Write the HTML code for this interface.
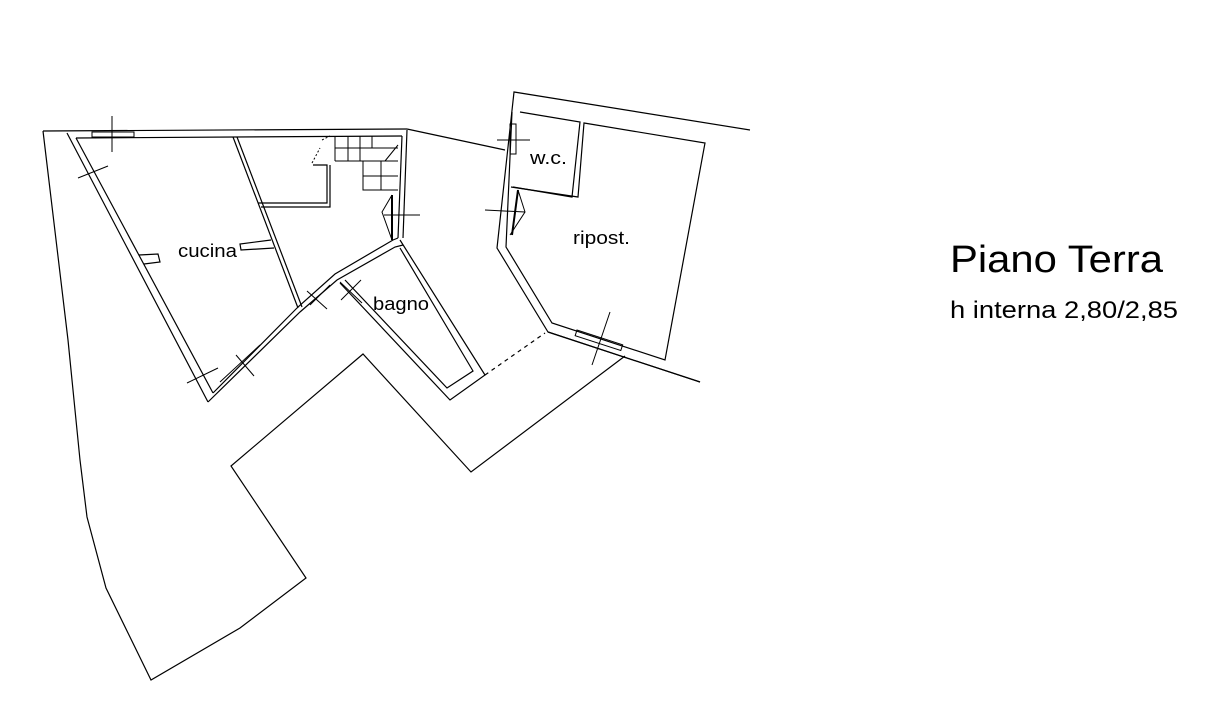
<!DOCTYPE html>
<html><head><meta charset="utf-8"><style>
body{margin:0;background:#fff;width:1214px;height:715px;overflow:hidden}
svg{display:block}
text{font-family:"Liberation Sans",sans-serif;fill:#000}
</style></head><body>
<svg width="1214" height="715" viewBox="0 0 1214 715" fill="none" stroke="#000" stroke-width="1.2">
<polyline points="43,131 68,340 80,460 87,517 106,588 151,680 240,628 306,578 231,466 363,354 471,472 625,356"/>
<polyline points="407,129 505,150"/>
<polyline points="548,332 700,382"/>
<polyline points="485,375 545,333" stroke-dasharray="4,4"/>
<polyline points="43,131 407,129"/>
<polyline points="76,138 402,136"/>
<polyline points="67,133 208,402"/>
<polyline points="76,138 213,393"/>
<polyline points="208,402 300,312 337,280 395,247 403,245"/>
<polyline points="213,393 298,307 335,274 393,240 398,238"/>
<polyline points="233,137 298,308"/>
<polyline points="237,137 302,307"/>
<polyline points="139,255 158,254 160,262 144,264"/>
<polyline points="271,240 240,244 241,250 274,248"/>
<polyline points="258,203 327,203 327,165 313,165"/>
<polyline points="261,207 330,207 330,165"/>
<g stroke-width="1">
<path d="M335,161 V136 M335,161 H398 M348,161 V136 M360,161 V136 M335,148 H398 M372,148 V136 M385,161 L398,145 M363,161 V190 H398 M363,176 H398 M381,161 V190"/>
<path d="M312,163 L320,148 M322,140 L330,136" stroke-dasharray="2,2"/>
</g>
<polyline points="402,136 398,238"/>
<polyline points="407,130 403,238"/>
<polyline points="400,240 485,375 450,400 340,283"/>
<polyline points="400,248 473,371 447,388 345,280"/>
<g stroke-width="1">
<rect x="92" y="132" width="42" height="5"/>
<line x1="112" y1="116" x2="112" y2="152"/>
<line x1="78" y1="178" x2="108" y2="166"/>
<line x1="187" y1="383" x2="218" y2="368"/>
<line x1="236" y1="355" x2="254" y2="376"/>
<line x1="220" y1="382" x2="260" y2="345"/>
<line x1="307" y1="291" x2="327" y2="309"/>
<line x1="310" y1="305" x2="330" y2="285"/>
<line x1="341" y1="300" x2="361" y2="280"/>
<line x1="340" y1="282" x2="362" y2="303"/>
<line x1="497" y1="140" x2="530" y2="140"/>
<line x1="592" y1="365" x2="610" y2="312"/>
<rect x="577" y="330" width="48" height="6" transform="rotate(18 577 330)"/>
<line x1="384" y1="215" x2="420" y2="215"/>
<line x1="392" y1="195" x2="392" y2="240" stroke-width="2"/>
<polyline points="392,195 382,212 392,240"/>
<line x1="485" y1="210" x2="525" y2="212"/>
<line x1="518" y1="190" x2="512" y2="235" stroke-width="2"/>
<polyline points="518,190 525,212 510,235"/>
</g>
<polyline points="750,130 514,92 497,248 548,332 700,382"/>
<polyline points="512,112 506,247 552,323 665,360 705,143 584,123 578,197 511,187"/>
<polyline points="520,112 580,122 572,197 513,187"/>
<rect x="510" y="124" width="6" height="30" stroke-width="1"/>
<g stroke="none">
<text x="178" y="257" font-size="18" textLength="59" lengthAdjust="spacingAndGlyphs">cucina</text>
<text x="373" y="310" font-size="18" textLength="56" lengthAdjust="spacingAndGlyphs">bagno</text>
<text x="530" y="164" font-size="18" textLength="37" lengthAdjust="spacingAndGlyphs">w.c.</text>
<text x="573" y="244" font-size="18" textLength="57" lengthAdjust="spacingAndGlyphs">ripost.</text>
<text x="950" y="272" font-size="38" textLength="213" lengthAdjust="spacingAndGlyphs">Piano Terra</text>
<text x="950" y="318" font-size="24" textLength="228" lengthAdjust="spacingAndGlyphs">h interna 2,80/2,85</text>
</g>
</svg>
</body></html>
